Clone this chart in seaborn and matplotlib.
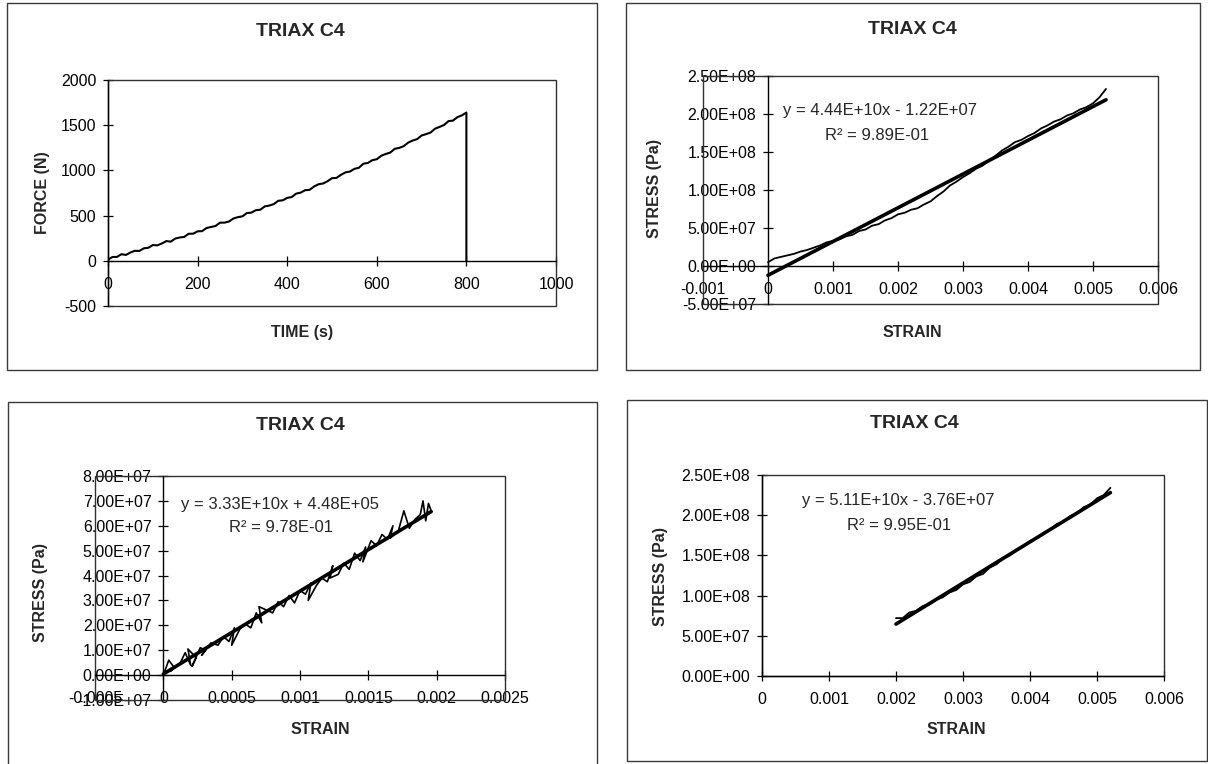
import matplotlib
matplotlib.use("Agg")
import matplotlib.pyplot as plt
from matplotlib.patches import Rectangle
import seaborn as sns

# ---------------- data ----------------
chart_title = "TRIAX C4"

# Panel 1 : force vs time (every 10 s, then drop at failure)
time_s = [0, 10, 20, 30, 40, 50, 60, 70, 80, 90, 100, 110, 120, 130, 140, 150, 160, 170,
          180, 190, 200, 210, 220, 230, 240, 250, 260, 270, 280, 290, 300, 310, 320, 330,
          340, 350, 360, 370, 380, 390, 400, 410, 420, 430, 440, 450, 460, 470, 480, 490,
          500, 510, 520, 530, 540, 550, 560, 570, 580, 590, 600, 610, 620, 630, 640, 650,
          660, 670, 680, 690, 700, 710, 720, 730, 740, 750, 760, 770, 780, 790, 800, 800]
force_n = [14, 42, 43, 73, 65, 92, 111, 109, 138, 144, 174, 171, 191, 218, 212, 246, 258,
           264, 299, 300, 326, 328, 363, 374, 385, 422, 422, 435, 468, 483, 492, 528, 533,
           560, 565, 602, 611, 627, 664, 669, 696, 705, 743, 754, 781, 785, 822, 847, 855,
           880, 914, 917, 951, 978, 987, 1017, 1029, 1074, 1082, 1113, 1124, 1162, 1182,
           1197, 1239, 1249, 1268, 1307, 1330, 1346, 1386, 1401, 1419, 1461, 1481, 1502,
           1545, 1551, 1589, 1609, 1640, 0]
p1_xticks = [0, 200, 400, 600, 800, 1000]
p1_yticks = [-500, 0, 500, 1000, 1500, 2000]

# Panel 2 : stress vs strain (full test)
strain_b = [0.0000, 0.0001, 0.0002, 0.0003, 0.0004, 0.0005, 0.0006, 0.0007, 0.0008, 0.0009,
            0.0010, 0.0011, 0.0012, 0.0013, 0.0014, 0.0015, 0.0016, 0.0017, 0.0018, 0.0019,
            0.0020, 0.0021, 0.0022, 0.0023, 0.0024, 0.0025, 0.0026, 0.0027, 0.0028, 0.0029,
            0.0030, 0.0031, 0.0032, 0.0033, 0.0034, 0.0035, 0.0036, 0.0037, 0.0038, 0.0039,
            0.0040, 0.0041, 0.0042, 0.0043, 0.0044, 0.0045, 0.0046, 0.0047, 0.0048, 0.0049,
            0.0050, 0.0051, 0.0052]
stress_b = [0.5e7, 1.0e7, 1.2e7, 1.4e7, 1.6e7, 1.9e7, 2.1e7, 2.4e7, 2.7e7, 3.1e7,
            3.3e7, 3.5e7, 3.9e7, 4.1e7, 4.6e7, 4.8e7, 5.3e7, 5.5e7, 6.0e7, 6.3e7,
            6.8e7, 7.0e7, 7.4e7, 7.6e7, 8.1e7, 8.5e7, 9.2e7, 9.8e7, 10.6e7, 11.1e7,
            11.7e7, 12.2e7, 12.8e7, 13.2e7, 13.9e7, 14.5e7, 15.2e7, 15.7e7, 16.3e7, 16.6e7,
            17.1e7, 17.5e7, 18.1e7, 18.5e7, 19.0e7, 19.3e7, 19.8e7, 20.1e7, 20.6e7, 20.9e7,
            21.4e7, 22.2e7, 23.3e7]
trend_b = [4.44e10, -1.22e7]
eq_b = ["y = 4.44E+10x - 1.22E+07", "R\u00b2 = 9.89E-01"]
p2_xticks = [-0.001, 0, 0.001, 0.002, 0.003, 0.004, 0.005, 0.006]
p2_yticks = [-5e7, 0, 5e7, 1e8, 1.5e8, 2e8, 2.5e8]

# Panel 3 : stress vs strain (initial part, noisy)
strain_c = [0.0, 0.00004, 0.00008, 0.00005, 0.00012, 0.00016, 0.00020, 0.00018, 0.00024,
            0.00021, 0.00027, 0.00031, 0.00028, 0.00035, 0.00040, 0.00044, 0.00048, 0.00052,
            0.00050, 0.00056, 0.00060, 0.00064, 0.00068, 0.00072, 0.00070, 0.00076, 0.00080,
            0.00084, 0.00088, 0.00092, 0.00096, 0.00100, 0.00104, 0.00108, 0.00106, 0.00112,
            0.00116, 0.00120, 0.00124, 0.00122, 0.00128, 0.00132, 0.00136, 0.00140, 0.00144,
            0.00148, 0.00146, 0.00152, 0.00156, 0.00160, 0.00164, 0.00168, 0.00166, 0.00172,
            0.00176, 0.00180, 0.00184, 0.00188, 0.00190, 0.00192, 0.00194, 0.00196]
stress_c = [0.0, 6.0e6, 3.0e6, 1.5e6, 4.5e6, 9.0e6, 4.0e6, 1.05e7, 7.0e6,
            3.5e6, 1.1e7, 1.0e7, 8.0e6, 1.3e7, 1.2e7, 1.55e7, 1.35e7, 1.9e7,
            1.2e7, 1.85e7, 2.05e7, 1.9e7, 2.5e7, 2.1e7, 2.75e7, 2.6e7, 2.5e7,
            2.95e7, 2.75e7, 3.2e7, 2.9e7, 3.4e7, 3.25e7, 3.7e7, 3.0e7, 3.6e7,
            3.9e7, 3.75e7, 4.4e7, 3.9e7, 4.05e7, 4.5e7, 4.25e7, 4.9e7, 4.6e7,
            5.15e7, 4.55e7, 5.4e7, 5.2e7, 5.65e7, 5.45e7, 6.0e7, 5.5e7, 5.8e7,
            6.6e7, 5.9e7, 6.25e7, 6.45e7, 7.0e7, 6.2e7, 6.9e7, 6.6e7]
trend_c = [3.33e10, 4.48e5]
eq_c = ["y = 3.33E+10x + 4.48E+05", "R\u00b2 = 9.78E-01"]
p3_xticks = [-0.0005, 0, 0.0005, 0.001, 0.0015, 0.002, 0.0025]
p3_yticks = [-1e7, 0, 1e7, 2e7, 3e7, 4e7, 5e7, 6e7, 7e7, 8e7]

# Panel 4 : stress vs strain (upper part)
strain_d = [0.0020, 0.0021, 0.0022, 0.0023, 0.0024, 0.0025, 0.0026, 0.0027, 0.0028, 0.0029,
            0.0030, 0.0031, 0.0032, 0.0033, 0.0034, 0.0035, 0.0036, 0.0037, 0.0038, 0.0039,
            0.0040, 0.0041, 0.0042, 0.0043, 0.0044, 0.0045, 0.0046, 0.0047, 0.0048, 0.0049,
            0.0050, 0.0051, 0.0052]
stress_d = [7.2e7, 7.2e7, 7.9e7, 8.1e7, 8.7e7, 8.9e7, 9.5e7, 9.8e7, 10.4e7, 10.7e7,
            11.4e7, 11.7e7, 12.4e7, 12.7e7, 13.5e7, 13.9e7, 14.6e7, 15.0e7, 15.7e7, 16.1e7,
            16.8e7, 17.1e7, 17.8e7, 18.2e7, 18.9e7, 19.2e7, 19.9e7, 20.2e7, 21.0e7, 21.3e7,
            22.1e7, 22.5e7, 23.4e7]
trend_d = [5.11e10, -3.76e7]
eq_d = ["y = 5.11E+10x - 3.76E+07", "R\u00b2 = 9.95E-01"]
p4_xticks = [0, 0.001, 0.002, 0.003, 0.004, 0.005, 0.006]
p4_yticks = [0, 5e7, 1e8, 1.5e8, 2e8, 2.5e8]

# ---------------- style ----------------
sns.set_style("white")
plt.rcParams['font.family'] = ['Liberation Sans', 'DejaVu Sans']

W, H = 1208, 764
fig = plt.figure(figsize=(W / 100, H / 100), dpi=100)
fig.patch.set_facecolor("white")

TICK_FS = 11.5
LBL_FS = 11.5
TTL_FS = 14
EQ_FS = 12


def px_ax(l, t, r, b):
    return fig.add_axes([l / W, 1 - b / H, (r - l) / W, (b - t) / H])


def fig_text(x, y, s, **kw):
    fig.text(x / W, 1 - y / H, s, ha="center", va="center", **kw)


def panel_border(l, t, r, b):
    fig.add_artist(Rectangle((l / W, 1 - b / H), (r - l) / W, (b - t) / H,
                             transform=fig.transFigure, fill=False, lw=1.0,
                             ec="#3a3a3a"))


def style_axes(ax, xlim, ylim, xticks, yticks, xlabels, ylabels):
    ax.set_xlim(*xlim)
    ax.set_ylim(*ylim)
    for s in ["top", "right"]:
        ax.spines[s].set_visible(False)
    ax.spines["left"].set_position(("data", 0))
    ax.spines["bottom"].set_position(("data", 0))
    for s in ["left", "bottom"]:
        ax.spines[s].set_color("black")
        ax.spines[s].set_linewidth(1.0)
    ax.add_patch(Rectangle((0, 0), 1, 1, transform=ax.transAxes, fill=False,
                           lw=1.0, ec="#303030", clip_on=False, zorder=1))
    ax.set_xticks(xticks)
    ax.set_xticklabels(xlabels)
    ax.set_yticks(yticks)
    ax.set_yticklabels(ylabels)
    ax.tick_params(axis="both", direction="inout", length=7, width=0.9,
                   colors="black", labelsize=TICK_FS, bottom=True, left=True)
    ax.tick_params(axis="x", pad=8)
    ax.tick_params(axis="y", pad=5)
    ax.grid(False)
    ax.set_xlabel("")
    ax.set_ylabel("")


def fmt_e(v):
    return f"{v:.2E}"


def fmt_g(v):
    return f"{v:g}"


def draw_trend(ax, xs, coef):
    x0, x1 = min(xs), max(xs)
    tx = [x0, x1]
    ty = [coef[0] * x0 + coef[1], coef[0] * x1 + coef[1]]
    sns.lineplot(x=tx, y=ty, ax=ax, color="black", lw=2.6, sort=False,
                 estimator=None, zorder=4)


# ---------------- panel 1 ----------------
panel_border(7, 3, 597, 370)
ax1 = px_ax(108, 80, 556, 306)
sns.lineplot(x=time_s, y=force_n, ax=ax1, color="black", lw=1.5, sort=False,
             estimator=None, zorder=3)
style_axes(ax1, (0, 1000), (-500, 2000), p1_xticks, p1_yticks,
           [str(v) for v in p1_xticks], [str(v) for v in p1_yticks])
fig_text(300, 31, chart_title, fontsize=TTL_FS, fontweight="bold")
fig_text(302, 333, "TIME (s)", fontsize=LBL_FS, fontweight="bold")
fig_text(42, 193, "FORCE (N)", fontsize=LBL_FS, fontweight="bold", rotation=90)

# ---------------- panel 2 ----------------
panel_border(626, 3, 1200, 370)
ax2 = px_ax(703, 76, 1158, 304)
sns.lineplot(x=strain_b, y=stress_b, ax=ax2, color="black", lw=1.3, sort=False,
             estimator=None, zorder=3)
draw_trend(ax2, strain_b, trend_b)
style_axes(ax2, (-0.001, 0.006), (-5e7, 2.5e8), p2_xticks, p2_yticks,
           [fmt_g(v) for v in p2_xticks], [fmt_e(v) for v in p2_yticks])
fig_text(912, 29, chart_title, fontsize=TTL_FS, fontweight="bold")
fig_text(912, 332, "STRAIN", fontsize=LBL_FS, fontweight="bold")
fig_text(655, 188, "STRESS (Pa)", fontsize=LBL_FS, fontweight="bold", rotation=90)
fig_text(880, 110, eq_b[0], fontsize=EQ_FS)
fig_text(877, 135, eq_b[1], fontsize=EQ_FS)

# ---------------- panel 3 ----------------
panel_border(8, 402, 597, 768)
ax3 = px_ax(95, 476, 505, 700)
sns.lineplot(x=strain_c, y=stress_c, ax=ax3, color="black", lw=1.2, sort=False,
             estimator=None, zorder=3)
draw_trend(ax3, strain_c, trend_c)
style_axes(ax3, (-0.0005, 0.0025), (-1e7, 8e7), p3_xticks, p3_yticks,
           [fmt_g(v) for v in p3_xticks], [fmt_e(v) for v in p3_yticks])
fig_text(300, 426, chart_title, fontsize=TTL_FS, fontweight="bold")
fig_text(320, 730, "STRAIN", fontsize=LBL_FS, fontweight="bold")
fig_text(40, 592, "STRESS (Pa)", fontsize=LBL_FS, fontweight="bold", rotation=90)
fig_text(280, 504, eq_c[0], fontsize=EQ_FS)
fig_text(281, 528, eq_c[1], fontsize=EQ_FS)

# ---------------- panel 4 ----------------
panel_border(627, 400, 1207, 761)
ax4 = px_ax(762, 475, 1164, 676)
sns.lineplot(x=strain_d, y=stress_d, ax=ax4, color="black", lw=1.3, sort=False,
             estimator=None, zorder=3)
draw_trend(ax4, strain_d, trend_d)
style_axes(ax4, (0, 0.006), (0, 2.5e8), p4_xticks, p4_yticks,
           [fmt_g(v) for v in p4_xticks], [fmt_e(v) for v in p4_yticks])
fig_text(914, 424, chart_title, fontsize=TTL_FS, fontweight="bold")
fig_text(956, 730, "STRAIN", fontsize=LBL_FS, fontweight="bold")
fig_text(660, 576, "STRESS (Pa)", fontsize=LBL_FS, fontweight="bold", rotation=90)
fig_text(898, 500, eq_d[0], fontsize=EQ_FS)
fig_text(899, 525, eq_d[1], fontsize=EQ_FS)

fig.savefig("out.png", dpi=100, facecolor="white")
